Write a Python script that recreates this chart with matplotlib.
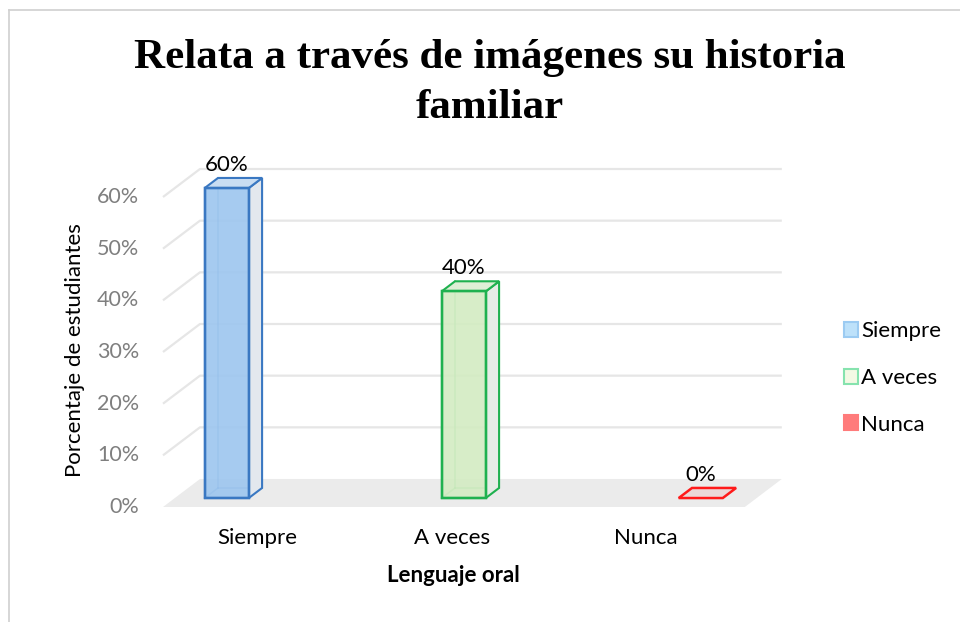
import matplotlib
matplotlib.use("Agg")
import matplotlib.pyplot as plt
from matplotlib.patches import Polygon, Patch
from matplotlib.lines import Line2D

# ── Data ────────────────────────────────────────────────────────────────
CATEGORIES = ["Siempre", "A veces", "Nunca"]
VALUES = [60, 40, 0]
Y_TICKS = [0, 10, 20, 30, 40, 50, 60]

# ── Style ───────────────────────────────────────────────────────────────
EDGE = ["#3A78C2", "#1FB14F", "#FF1A1A"]
FRONT = ["#9DC6EF", "#D3ECC2", "#EBD8D8"]
SIDE = ["#E3E8EE", "#E6ECE6", "#EBE0E0"]
TOP = ["#C9DDF2", "#DFEFD6", "#EBD8D8"]
LEG_FACE = ["#BDE1FA", "#F3F9E4", "#FF7B7B"]
LEG_EDGE = ["#9CCBF2", "#86E3AE", "#FF7B7B"]
GRID = "#E6E6E6"
FLOOR = "#EBEBEB"
TICK = "#7F7F7F"
SANS = "Lato"
FS = 16

W, H = 960, 622
# pseudo-3D depth offset (category units, percent units)
DX, DY = 0.156, 5.42
F0, F1 = 0.32, 0.68      # bar front / back depth
BAR_W = 0.186
X_LEFT, X_RIGHT = -0.219, 2.236
LABEL_X = [0.18, 1.0, 1.82]   # perspective-shifted category label spots


def proj(x, y, d):
    return (x + d * DX, y + d * DY)


fig = plt.figure(figsize=(W / 100, H / 100), dpi=100, facecolor="white")
ax = fig.add_axes([163 / W, (H - 507) / H, (800 - 163) / W, (507 - 150) / H])
ax.set_xlim(X_LEFT, X_LEFT + (800 - 163) / 237)
ax.set_ylim(0, (507 - 150) / 5.1667)
ax.axis("off")

# floor
floor = [proj(X_LEFT, 0, 0), proj(X_RIGHT, 0, 0),
         proj(X_RIGHT, 0, 1), proj(X_LEFT, 0, 1)]
ax.add_patch(Polygon(floor, closed=True, facecolor=FLOOR, edgecolor="none",
                     zorder=1, clip_on=False))

# gridlines: side wall diagonal + back wall horizontal
for v in Y_TICKS[1:]:
    pts = [proj(X_LEFT, v, 0), proj(X_LEFT, v, 1), proj(X_RIGHT, v, 1)]
    ax.plot([p[0] for p in pts], [p[1] for p in pts], color=GRID, lw=1.6,
            zorder=1, clip_on=False, solid_capstyle="butt")

# y tick labels
for v in Y_TICKS:
    ax.annotate(f"{v}%", xy=(X_LEFT, v), xytext=(-17, 0),
                textcoords="offset points", ha="right", va="center",
                fontsize=FS - 0.5, color=TICK, family=SANS,
                annotation_clip=False)

# bars
for i, (v, ec, fc, sc, tc) in enumerate(zip(VALUES, EDGE, FRONT, SIDE, TOP)):
    x0, x1 = i - BAR_W / 2, i + BAR_W / 2
    fbl, fbr = proj(x0, 0, F0), proj(x1, 0, F0)
    ftl, ftr = proj(x0, v, F0), proj(x1, v, F0)
    bbl, bbr = proj(x0, 0, F1), proj(x1, 0, F1)
    btl, btr = proj(x0, v, F1), proj(x1, v, F1)

    if v > 0:
        # hidden back edges seen through the glass
        for a, b in [(bbl, btl), (bbl, bbr), (fbl, bbl)]:
            ax.plot([a[0], b[0]], [a[1], b[1]], color=ec, lw=1.2, alpha=0.5,
                    zorder=2)
        ax.add_patch(Polygon([fbr, bbr, btr, ftr], closed=True,
                             facecolor=sc, edgecolor=ec, lw=1.5, zorder=3))
        ax.add_patch(Polygon([ftl, ftr, btr, btl], closed=True,
                             facecolor=tc, edgecolor=ec, lw=1.5, zorder=3))
        ax.add_patch(Polygon([fbl, fbr, ftr, ftl], closed=True,
                             facecolor=fc, edgecolor=ec, lw=1.7, alpha=0.9,
                             zorder=4))
        ax.add_patch(Polygon([fbl, fbr, ftr, ftl], closed=True,
                             facecolor="none", edgecolor=ec, lw=1.7, zorder=5))
    else:
        ax.add_patch(Polygon([ftl, ftr, btr, btl], closed=True,
                             facecolor=tc, edgecolor=ec, lw=1.8, zorder=4))

    ax.annotate(f"{v}%", xy=(ftl[0] + BAR_W / 2, v), xytext=(0, 23),
                textcoords="offset points", ha="center", va="center",
                fontsize=FS, color="black", family=SANS, zorder=6,
                annotation_clip=False)

# category labels
for x, c in zip(LABEL_X, CATEGORIES):
    ax.annotate(c, xy=(x, 0), xytext=(0, -22.5), textcoords="offset points",
                ha="center", va="center", fontsize=FS, color="black",
                family=SANS, annotation_clip=False)

fig.text(453 / W, 1 - 576 / H, "Lenguaje oral", ha="center", va="center",
         fontsize=FS, fontweight="bold", family=SANS, color="black")
fig.text(75 / W, 1 - 350 / H, "Porcentaje de estudiantes", ha="center",
         va="center", rotation=90, fontsize=FS, family=SANS, color="black")

fig.text(490 / W, 1 - 83 / H, "Relata a través de imágenes su historia\nfamiliar",
         ha="center", va="center", fontsize=31, fontweight="bold",
         family="Liberation Serif", color="black", linespacing=1.42)

# legend
handles = [Patch(facecolor=f, edgecolor=e, lw=1.5) for f, e in zip(LEG_FACE, LEG_EDGE)]
fig.legend(handles, CATEGORIES, loc="center left",
           bbox_to_anchor=(824 / W, 1 - 378 / H), frameon=False,
           handlelength=0.65, handleheight=0.65, handletextpad=0.12,
           labelspacing=1.2, borderpad=0.4, prop={"family": SANS, "size": FS})

# outer chart frame (partly cut off)
fig.add_artist(Line2D([9 / W, 1], [1 - 10 / H, 1 - 10 / H], color="#D0D0D0",
                      lw=1.2, transform=fig.transFigure))
fig.add_artist(Line2D([9 / W, 9 / W], [0, 1 - 10 / H], color="#D0D0D0",
                      lw=1.2, transform=fig.transFigure))

fig.savefig("out.png", dpi=100, facecolor="white")
